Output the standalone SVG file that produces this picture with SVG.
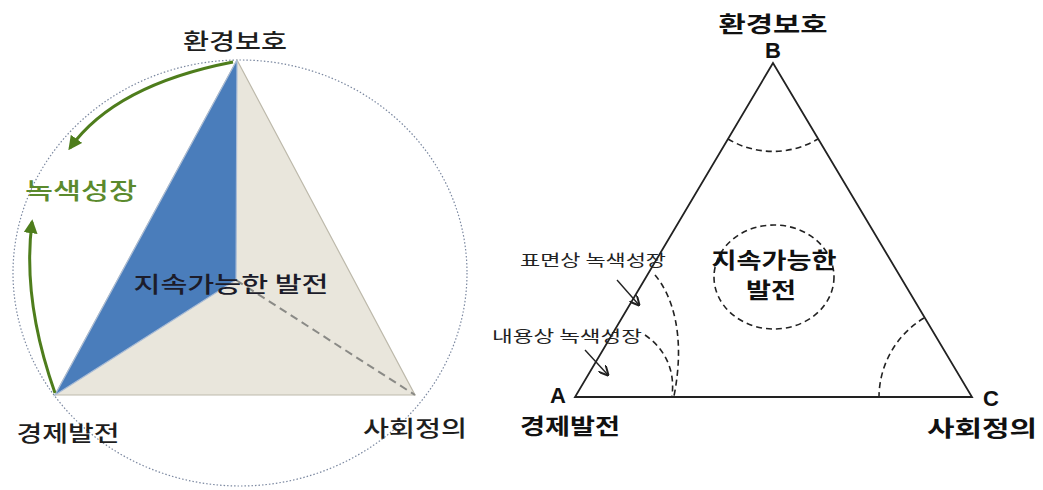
<svg xmlns="http://www.w3.org/2000/svg" width="1043" height="490" viewBox="0 0 1043 490">
<defs>
<style>
.kr{font-family:"Noto Sans CJK KR","Noto Sans",sans-serif;}
.lbl{font-size:22px;fill:#1e1e1e;font-weight:500;}
.bl{font-weight:bold;fill:#111;}
.lat{font-family:"Liberation Sans",Arial,sans-serif;font-weight:bold;font-size:22px;fill:#111;}
.dash{fill:none;stroke:#222;stroke-width:1.6;stroke-dasharray:6,4;}
.green{fill:none;stroke:#4e7d1c;stroke-width:3;}
.thin{fill:none;stroke:#222;stroke-width:1.4;}
</style>
<marker id="gArrow" viewBox="0 0 10 10" refX="8" refY="5" markerWidth="14" markerHeight="14" markerUnits="userSpaceOnUse" orient="auto">
<path d="M0,0 L10,5 L0,10 z" fill="#4e7d1c"/>
</marker>
<marker id="kArrow" viewBox="0 0 10 10" refX="9" refY="5" markerWidth="10" markerHeight="10" markerUnits="userSpaceOnUse" orient="auto">
<path d="M0,0 L10,5 L0,10" fill="none" stroke="#222" stroke-width="2"/>
</marker>
</defs>
<rect width="1043" height="490" fill="#fff"/>

<!-- Left diagram -->
<g id="left-circle">
<ellipse cx="240" cy="273" rx="227" ry="213" fill="none" stroke="#7b88a0" stroke-width="1.2" stroke-dasharray="1.5,2"/>
</g>
<g id="left-pyramid">
<polygon points="237,60 55,395 415,395" fill="#e9e6dc" stroke="#bdb9ab" stroke-width="1.2"/>
<polygon points="237,60 55,395 236,280" fill="#4a7dbb" stroke="#a9bcd6" stroke-width="1.2"/>
<line x1="236" y1="280" x2="415" y2="395" stroke="#8a8a86" stroke-width="2" stroke-dasharray="8,5"/>
</g>
<g id="left-center-label">
<text class="kr" x="231" y="292" font-size="22" font-weight="500" fill="#1c1c2a" text-anchor="middle" textLength="195" lengthAdjust="spacingAndGlyphs">지속가능한 발전</text>
</g>
<g id="left-env">
<text class="kr lbl" x="235" y="49" text-anchor="middle" textLength="104" lengthAdjust="spacingAndGlyphs">환경보호</text>
</g>
<g id="left-econ">
<text class="kr lbl" x="68" y="441" text-anchor="middle" textLength="103" lengthAdjust="spacingAndGlyphs">경제발전</text>
</g>
<g id="left-social">
<text class="kr lbl" x="415" y="436" text-anchor="middle" textLength="104" lengthAdjust="spacingAndGlyphs">사회정의</text>
</g>
<g id="left-green-growth">
<text class="kr" x="81" y="199" font-size="23" font-weight="500" fill="#5b8a2d" text-anchor="middle" textLength="112" lengthAdjust="spacingAndGlyphs">녹색성장</text>
</g>

<!-- Right diagram -->
<g id="right-triangle">
<polygon points="773,63 575,397 972,397" fill="none" stroke="#222" stroke-width="1.8"/>
</g>
<g id="right-center">
<ellipse cx="774" cy="277" rx="60" ry="52" class="dash"/>
<text class="kr bl" x="774" y="268" font-size="22" text-anchor="middle" textLength="125" lengthAdjust="spacingAndGlyphs">지속가능한</text>
<text class="kr bl" x="771" y="298" font-size="22" text-anchor="middle" textLength="50" lengthAdjust="spacingAndGlyphs">발전</text>
</g>
<g id="right-B">
<text class="kr bl" x="773" y="32" font-size="22" text-anchor="middle" textLength="109" lengthAdjust="spacingAndGlyphs">환경보호</text>
<text class="lat" x="773" y="58" text-anchor="middle">B</text>
</g>
<g id="right-A">
<text class="lat" x="558" y="403" text-anchor="middle">A</text>
<text class="kr bl" x="570" y="434" font-size="22" text-anchor="middle" textLength="100" lengthAdjust="spacingAndGlyphs">경제발전</text>
</g>
<g id="right-C">
<text class="lat" x="991" y="406" text-anchor="middle">C</text>
<text class="kr bl" x="982" y="436" font-size="22" text-anchor="middle" textLength="110" lengthAdjust="spacingAndGlyphs">사회정의</text>
</g>
<g id="right-surface-label">
<text class="kr" x="593" y="266" font-size="16" fill="#222" text-anchor="middle" textLength="146" lengthAdjust="spacingAndGlyphs">표면상 녹색성장</text>
</g>
<g id="right-content-label">
<text class="kr" x="567" y="342" font-size="16" fill="#222" text-anchor="middle" textLength="150" lengthAdjust="spacingAndGlyphs">내용상 녹색성장</text>
</g>

<g id="connectors">
<path class="green" d="M233,62 Q115,85 70,148" marker-end="url(#gArrow)"/>
<path class="green" d="M55,393 Q22,300 32,222" marker-end="url(#gArrow)"/>
<path class="dash" d="M728,139 A88,88 0 0 0 818,139"/>
<path class="dash" d="M924,318 A93,93 0 0 0 879,397"/>
<path class="dash" d="M655,275 C672,295 686,335 674,396"/>
<path class="dash" d="M645,335 C660,345 676,365 672,396"/>
<line class="thin" x1="617" y1="280" x2="639" y2="305" marker-end="url(#kArrow)"/>
<line class="thin" x1="585" y1="350" x2="608" y2="375" marker-end="url(#kArrow)"/>
</g>
</svg>
